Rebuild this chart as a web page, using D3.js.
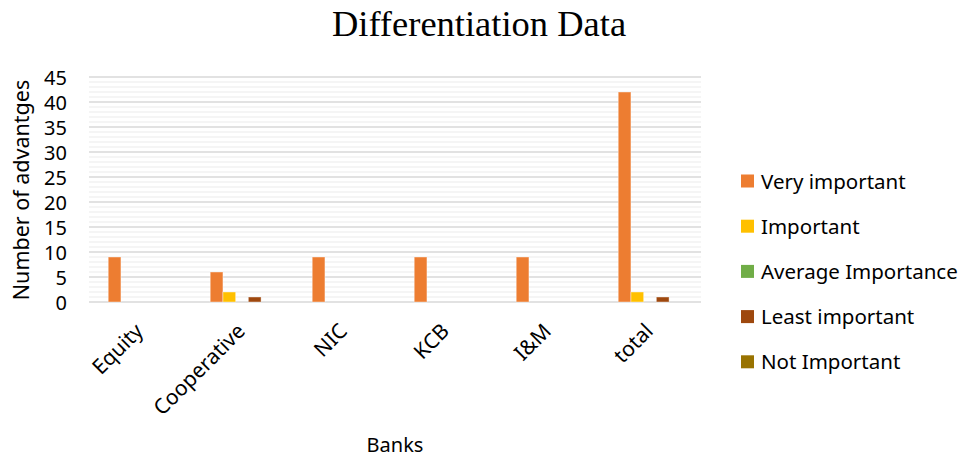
<!DOCTYPE html>
<html>
<head>
<meta charset="utf-8">
<script src="https://cdn.jsdelivr.net/npm/d3@7"></script>
<style>
  body { margin: 0; background: #fff; }
  svg { display: block; }
</style>
</head>
<body>
<svg id="chart"></svg>
<script>
// data
var categories = ["Equity", "Cooperative", "NIC", "KCB", "I&M", "total"];
var seriesNames = ["Very important", "Important", "Average Importance", "Least important", "Not Important"];
var veryImportant = [9, 6, 9, 9, 9, 42];
var important = [0, 2, 0, 0, 0, 2];
var averageImportance = [0, 0, 0, 0, 0, 0];
var leastImportant = [0, 1, 0, 0, 0, 1];
var notImportant = [0, 0, 0, 0, 0, 0];
var yTicks = [0, 5, 10, 15, 20, 25, 30, 35, 40, 45];

var seriesValues = [veryImportant, important, averageImportance, leastImportant, notImportant];
var colors = ["#ED7D31", "#FFC000", "#70AD47", "#9E480E", "#997300"];

var width = 963, height = 459;
var font = "'Noto Sans', 'Open Sans', sans-serif";

var svg = d3.select("#chart")
    .attr("width", width)
    .attr("height", height);

var x0 = d3.scaleBand()
    .domain(categories)
    .range([89, 701])
    .paddingInner(0.377)
    .paddingOuter(0.1885);

var x1 = d3.scaleBand()
    .domain(seriesNames)
    .range([0, x0.bandwidth()]);

var y = d3.scaleLinear()
    .domain([0, 45])
    .range([302, 77]);

// minor gridlines (every 1)
svg.append("g")
  .selectAll("line")
  .data(d3.range(0, 46).filter(function(d) { return d % 5 != 0; }))
  .enter()
  .append("line")
    .attr("x1", 89).attr("x2", 701)
    .attr("y1", function(d) { return y(d); })
    .attr("y2", function(d) { return y(d); })
    .style("stroke", "#f2f2f2")
    .style("stroke-width", 1.5);

// major gridlines
svg.append("g")
  .selectAll("line")
  .data(yTicks)
  .enter()
  .append("line")
    .attr("x1", 89).attr("x2", 701)
    .attr("y1", function(d) { return y(d); })
    .attr("y2", function(d) { return y(d); })
    .style("stroke", "#d9d9d9")
    .style("stroke-width", 1.5);

// y axis labels
var yAxis = svg.append("g")
    .attr("transform", "translate(67,1)")
    .call(d3.axisLeft(y).tickValues(yTicks).tickSize(0).tickPadding(0));
yAxis.select(".domain").remove();
yAxis.selectAll("text")
    .style("font-family", font)
    .style("font-size", "20px")
    .style("fill", "#000");

// bars
var groups = svg.selectAll(".cat")
    .data(categories)
    .enter()
    .append("g")
    .attr("transform", function(d) { return "translate(" + x0(d) + ",0)"; });

groups.selectAll("rect")
    .data(function(d, i) {
        return seriesNames.map(function(s, j) { return {series: s, j: j, value: seriesValues[j][i]}; })
            .filter(function(e) { return e.value > 0; });
    })
    .enter()
    .append("rect")
    .attr("x", function(d) { return x1(d.series); })
    .attr("width", x1.bandwidth())
    .attr("y", function(d) { return y(d.value); })
    .attr("height", function(d) { return y(0) - y(d.value); })
    .style("fill", function(d) { return colors[d.j]; })
    .style("stroke", "#fff")
    .style("stroke-opacity", 0.4)
    .style("stroke-width", 1);

// x axis labels
var xAxis = svg.append("g")
    .attr("transform", "translate(0,318)")
    .call(d3.axisBottom(x0).tickSize(0).tickPadding(0));
xAxis.select(".domain").remove();
xAxis.selectAll("text")
    .attr("dy", 0)
    .attr("y", 0)
    .attr("x", 0)
    .attr("transform", "translate(-8,2) rotate(-45)")
    .style("text-anchor", "end")
    .style("dominant-baseline", "hanging")
    .style("font-family", font)
    .style("font-size", "21px")
    .style("fill", "#000");

// title
svg.append("text")
    .attr("x", 479)
    .attr("y", 36)
    .attr("text-anchor", "middle")
    .style("font-family", "'Liberation Serif', 'Times New Roman', serif")
    .style("font-size", "36.5px")
    .text("Differentiation Data");

// axis titles
svg.append("text")
    .attr("transform", "translate(29,190) rotate(-90)")
    .attr("text-anchor", "middle")
    .style("font-family", font)
    .style("font-size", "21.5px")
    .text("Number of advantges");

svg.append("text")
    .attr("x", 395)
    .attr("y", 452)
    .attr("text-anchor", "middle")
    .style("font-family", font)
    .style("font-size", "20px")
    .text("Banks");

// legend
var legend = svg.selectAll(".legend")
    .data(seriesNames)
    .enter()
    .append("g")
    .attr("transform", function(d, i) { return "translate(741," + (181 + i * 45.2) + ")"; });

legend.append("rect")
    .attr("x", 0).attr("y", -6.5)
    .attr("width", 13).attr("height", 13)
    .style("fill", function(d, i) { return colors[i]; });

legend.append("text")
    .attr("x", 20)
    .attr("y", 7.5)
    .style("font-family", font)
    .style("font-size", "20.5px")
    .text(function(d) { return d; });
</script>
</body>
</html>
